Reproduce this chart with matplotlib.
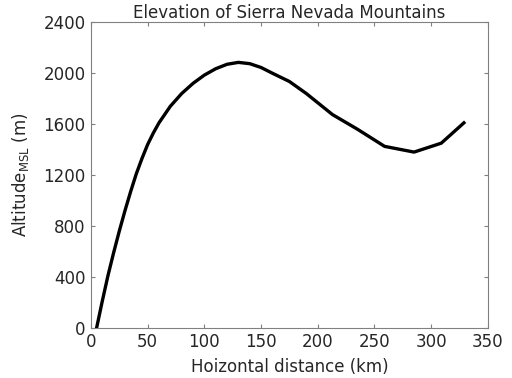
import matplotlib
matplotlib.use("Agg")
import matplotlib.pyplot as plt

# terrain profile across the range
distance_km = [5, 10, 15, 20, 25, 30, 35, 40, 45, 50, 55, 60, 70, 80, 90,
               100, 110, 120, 130, 140, 150, 160, 175, 190, 213, 235, 259,
               285, 309, 329]
altitude_m = [0, 210, 410, 590, 760, 920, 1070, 1210, 1330, 1440, 1530,
              1610, 1740, 1840, 1920, 1985, 2035, 2070, 2085, 2075, 2045,
              2000, 1935, 1840, 1675, 1560, 1425, 1380, 1450, 1610]

x_ticks = [0, 50, 100, 150, 200, 250, 300, 350]
y_ticks = [0, 400, 800, 1200, 1600, 2000, 2400]

text_col = "#262626"
axis_col = "#808080"

plt.rcParams["font.family"] = "DejaVu Sans"
plt.rcParams["mathtext.fontset"] = "dejavusans"

fig = plt.figure(figsize=(5.12, 3.78), dpi=100)
ax = fig.add_axes([0.1777, 0.1331, 0.9526 - 0.1777, 0.941 - 0.1331])

ax.plot(distance_km, altitude_m, color="black", linewidth=2.4,
        solid_joinstyle="round")

ax.set_xlim(0, 350)
ax.set_ylim(0, 2400)
ax.set_xticks(x_ticks)
ax.set_yticks(y_ticks)

for s in ax.spines.values():
    s.set_color(axis_col)
    s.set_linewidth(0.8)
ax.tick_params(direction="in", top=True, right=True, length=3,
               color=axis_col, labelcolor=text_col, labelsize=12, pad=4)

ax.set_title("Elevation of Sierra Nevada Mountains", fontsize=12,
             color=text_col, pad=3)
ax.set_xlabel("Hoizontal distance (km)", fontsize=12, color=text_col,
              labelpad=5)
ax.set_ylabel(r"Altitude$_{\mathrm{MSL}}$ (m)", fontsize=12,
              color=text_col, labelpad=9)

fig.savefig("out.png", dpi=100)
